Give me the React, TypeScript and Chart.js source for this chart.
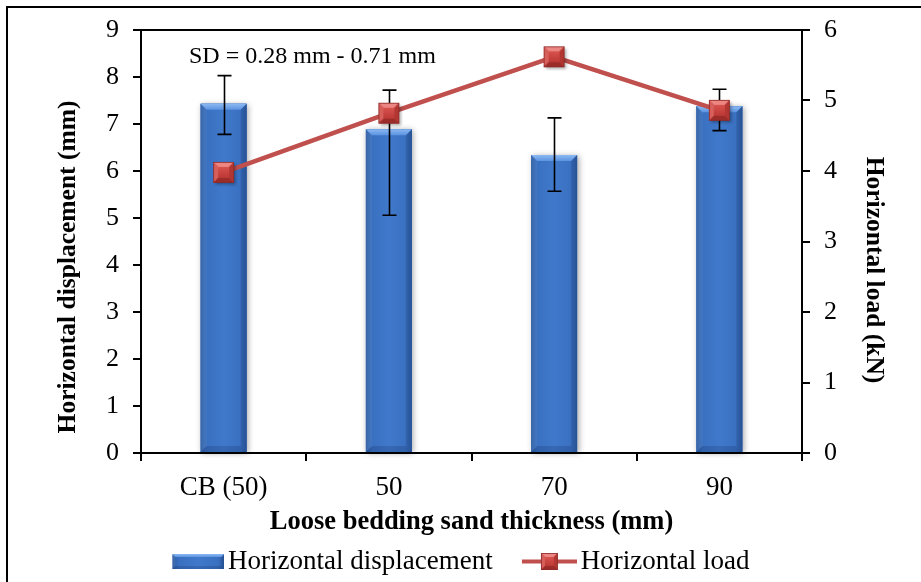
import React, { useEffect, useRef } from 'react';
import { Chart, registerables } from 'chart.js';

Chart.register(...registerables);

// ---- data ----
const categories = ['CB (50)', '50', '70', '90'];
const displacement = [7.43, 6.89, 6.34, 7.38];
const displacementErrLow = [6.78, 5.06, 5.57, 6.86];
const displacementErrHigh = [8.03, 7.72, 7.13, 7.74];
const load = [3.98, 4.82, 5.62, 4.86];
const leftAxisRange = [0, 9];
const rightAxisRange = [0, 6];
const xTitle = 'Loose bedding sand thickness (mm)';
const leftTitle = 'Horizontal displacement (mm)';
const rightTitle = 'Horizontal load (kN)';
const seriesNames = ['Horizontal displacement', 'Horizontal load'];
const sdNote = 'SD = 0.28 mm - 0.71 mm';

const FONT = "'Liberation Serif', 'Times New Roman', Times, serif";
const BAR_BASE = '#3B72C4';
const LINE_RED = '#C0504D';

function poly(g: any, pts: number[][], fill: any) {
  g.beginPath();
  g.moveTo(pts[0][0], pts[0][1]);
  for (let i = 1; i < pts.length; i++) g.lineTo(pts[i][0], pts[i][1]);
  g.closePath();
  g.fillStyle = fill;
  g.fill();
}

function drawBarFace(g: any, l: number, t: number, r: number, b: number, bev: number) {
  const hg = g.createLinearGradient(l, 0, r, 0);
  hg.addColorStop(0, '#2D5DA2');
  hg.addColorStop(0.13, '#3A70C0');
  hg.addColorStop(0.5, '#4079CB');
  hg.addColorStop(0.87, '#3A70C0');
  hg.addColorStop(1, '#2D5DA2');
  g.fillStyle = hg;
  g.fillRect(l, t, r - l, b - t);
  const tg = g.createLinearGradient(0, t, 0, t + bev);
  tg.addColorStop(0, '#8CB9F3');
  tg.addColorStop(1, '#5C93E0');
  poly(g, [[l, t], [r, t], [r - bev, t + bev], [l + bev, t + bev]], tg);
  poly(g, [[l, t], [l + bev, t + bev], [l + bev, b - bev], [l, b]], 'rgba(255,255,255,0.06)');
  poly(g, [[r, t], [r, b], [r - bev, b - bev], [r - bev, t + bev]], 'rgba(0,10,50,0.12)');
  poly(g, [[l, b], [l + bev, b - bev], [r - bev, b - bev], [r, b]], 'rgba(0,10,50,0.15)');
}

function drawMarker(g: any, x0: number, y0: number, s: number, shadow: boolean) {
  if (shadow) {
    g.save();
    g.shadowColor = 'rgba(0,0,0,0.35)';
    g.shadowBlur = 3;
    g.shadowOffsetX = 1.5;
    g.shadowOffsetY = 1.5;
    g.fillStyle = '#B8342F';
    g.fillRect(x0, y0, s, s);
    g.restore();
  }
  const x1 = x0 + s;
  const y1 = y0 + s;
  const b = Math.round(s * 0.22);
  g.fillStyle = '#C43F3B';
  g.fillRect(x0, y0, s, s);
  poly(g, [[x0, y0], [x1, y0], [x1 - b, y0 + b], [x0 + b, y0 + b]], '#EC8682');
  poly(g, [[x0, y0], [x0 + b, y0 + b], [x0 + b, y1 - b], [x0, y1]], '#D65F5B');
  poly(g, [[x1, y0], [x1, y1], [x1 - b, y1 - b], [x1 - b, y0 + b]], '#B23733');
  poly(g, [[x0, y1], [x0 + b, y1 - b], [x1 - b, y1 - b], [x1, y1]], '#9C2C29');
  const ig = g.createLinearGradient(0, y0 + b, 0, y1 - b);
  ig.addColorStop(0, '#D8524E');
  ig.addColorStop(1, '#BC3935');
  g.fillStyle = ig;
  g.fillRect(x0 + b, y0 + b, s - 2 * b, s - 2 * b);
  g.strokeStyle = 'rgba(140,40,37,0.8)';
  g.lineWidth = 1;
  g.strokeRect(x0 + 0.5, y0 + 0.5, s - 1, s - 1);
}

function makeMarkerCanvas(side: number) {
  const pad = 4;
  const c = document.createElement('canvas');
  c.width = side + pad * 2;
  c.height = side + pad * 2;
  drawMarker(c.getContext('2d'), pad, pad, side, true);
  return c;
}

const LEG_W = 84;
function makeBarSwatch() {
  const c = document.createElement('canvas');
  c.width = LEG_W;
  c.height = 17;
  const g = c.getContext('2d');
  drawBarFace(g, LEG_W - 52, 1, LEG_W, 16, 3);
  return c;
}
function makeLineSwatch() {
  const c = document.createElement('canvas');
  c.width = LEG_W;
  c.height = 23;
  const g: any = c.getContext('2d');
  g.strokeStyle = LINE_RED;
  g.lineWidth = 4;
  g.beginPath();
  g.moveTo(LEG_W - 55, 11.5);
  g.lineTo(LEG_W, 11.5);
  g.stroke();
  const s = 17;
  drawMarker(g, LEG_W - 27.5 - s / 2, 11.5 - s / 2, s, false);
  return c;
}

const decorPlugin = {
  id: 'decor',
  beforeDatasetDraw(chart: any, args: any) {
    if (args.index !== 0) return;
    const ctx = chart.ctx;
    ctx.save();
    for (const el of args.meta.data) {
      const p = el.getProps(['x', 'y', 'base', 'width'], true);
      ctx.shadowColor = 'rgba(0,0,0,0.35)';
      ctx.shadowBlur = 6;
      ctx.shadowOffsetX = 1.5;
      ctx.shadowOffsetY = 1;
      ctx.fillStyle = BAR_BASE;
      ctx.fillRect(p.x - p.width / 2, p.y, p.width, p.base - p.y);
    }
    ctx.restore();
  },
  afterDatasetDraw(chart: any, args: any) {
    if (args.index !== 0) return;
    const ctx = chart.ctx;
    const ys = chart.scales.y;
    ctx.save();
    args.meta.data.forEach((el: any) => {
      const p = el.getProps(['x', 'y', 'base', 'width'], true);
      drawBarFace(ctx, p.x - p.width / 2, p.y, p.x + p.width / 2, p.base, 6);
    });
    ctx.strokeStyle = '#000';
    ctx.lineWidth = 1.6;
    args.meta.data.forEach((el: any, i: number) => {
      const x = Math.round(el.x) + 0.5;
      const yh = ys.getPixelForValue(displacementErrHigh[i]);
      const yl = ys.getPixelForValue(displacementErrLow[i]);
      ctx.beginPath();
      ctx.moveTo(x, yh);
      ctx.lineTo(x, yl);
      ctx.moveTo(x - 7, yh);
      ctx.lineTo(x + 7, yh);
      ctx.moveTo(x - 7, yl);
      ctx.lineTo(x + 7, yl);
      ctx.stroke();
    });
    ctx.restore();
  },
  afterDraw(chart: any) {
    const ctx = chart.ctx;
    const a = chart.chartArea;
    ctx.save();
    // top frame line of plot area
    ctx.strokeStyle = '#000';
    ctx.lineWidth = 2;
    ctx.beginPath();
    ctx.moveTo(a.left, Math.round(a.top));
    ctx.lineTo(a.right, Math.round(a.top));
    ctx.stroke();
    // axis titles
    ctx.fillStyle = '#000';
    ctx.font = `bold 25.5px ${FONT}`;
    ctx.textAlign = 'center';
    ctx.textBaseline = 'middle';
    ctx.save();
    ctx.translate(a.left - 73, a.top + 237);
    ctx.rotate(-Math.PI / 2);
    ctx.fillText(leftTitle, 0, 0);
    ctx.restore();
    ctx.save();
    ctx.translate(a.right + 72, a.top + 240);
    ctx.rotate(Math.PI / 2);
    ctx.fillText(rightTitle, 0, 0);
    ctx.restore();
    // SD note
    ctx.font = `24px ${FONT}`;
    ctx.textAlign = 'left';
    ctx.fillText(sdNote, a.left + 48, a.top + 27);
    ctx.restore();
  },
};

export default function App() {
  const ref = useRef<HTMLCanvasElement | null>(null);

  useEffect(() => {
    if (!ref.current) return;
    const marker = makeMarkerCanvas(21);
    const barSwatch = makeBarSwatch();
    const lineSwatch = makeLineSwatch();
    const tickFontY = { family: FONT, size: 26 };
    const axisGrid = { drawOnChartArea: false, drawTicks: true, tickLength: 8, color: '#000', lineWidth: 2 };
    const axisBorder = { display: true, color: '#000', width: 2 };

    const chart = new Chart(ref.current, {
      type: 'bar',
      data: {
        labels: categories,
        datasets: [
          {
            type: 'bar',
            label: seriesNames[0],
            data: displacement,
            yAxisID: 'y',
            backgroundColor: BAR_BASE,
            borderWidth: 0,
            barPercentage: 0.278,
            categoryPercentage: 1,
            order: 2,
          },
          {
            type: 'line',
            label: seriesNames[1],
            data: load,
            yAxisID: 'y1',
            borderColor: LINE_RED,
            backgroundColor: LINE_RED,
            borderWidth: 4.5,
            pointStyle: marker,
            pointRadius: 11,
            pointHoverRadius: 11,
            tension: 0,
            order: 1,
          },
        ],
      } as any,
      options: {
        animation: false,
        responsive: true,
        maintainAspectRatio: false,
        events: [],
        layout: { padding: { left: 0, right: 21.6, top: 30, bottom: -3 } },
        plugins: {
          tooltip: { enabled: false },
          legend: {
            position: 'bottom',
            labels: {
              usePointStyle: true,
              pointStyleWidth: 64.5,
              padding: 10,
              color: '#000',
              font: { family: FONT, size: 27 },
              generateLabels: () => [
                { text: seriesNames[0], pointStyle: barSwatch, fillStyle: 'rgba(0,0,0,0)', strokeStyle: 'rgba(0,0,0,0)', lineWidth: 0, datasetIndex: 0, hidden: false },
                { text: seriesNames[1], pointStyle: lineSwatch, fillStyle: 'rgba(0,0,0,0)', strokeStyle: 'rgba(0,0,0,0)', lineWidth: 0, datasetIndex: 1, hidden: false },
              ],
            },
          },
        },
        scales: {
          x: {
            type: 'category',
            offset: true,
            grid: { ...axisGrid, offset: true },
            border: axisBorder,
            ticks: { color: '#000', font: { family: FONT, size: 27 }, padding: 11, maxRotation: 0, autoSkip: false },
            title: {
              display: true,
              text: xTitle,
              color: '#000',
              font: { family: FONT, size: 26.5, weight: 'bold', lineHeight: 1.1 },
              padding: { top: 0, bottom: 1 },
            },
            afterFit: (s: any) => { s.height = 85; },
          },
          y: {
            position: 'left',
            min: leftAxisRange[0],
            max: leftAxisRange[1],
            ticks: { stepSize: 1, color: '#000', font: tickFontY, padding: 14 },
            grid: axisGrid,
            border: axisBorder,
            afterFit: (s: any) => { s.width = 141; },
          },
          y1: {
            position: 'right',
            min: rightAxisRange[0],
            max: rightAxisRange[1],
            ticks: { stepSize: 1, color: '#000', font: tickFontY, padding: 14 },
            grid: axisGrid,
            border: axisBorder,
            afterFit: (s: any) => { s.width = 97.4; },
          },
        },
      } as any,
      plugins: [decorPlugin as any],
    });
    return () => chart.destroy();
  }, []);

  return (
    <div style={{ position: 'fixed', left: 0, top: 0, width: 921, height: 582, overflow: 'hidden', background: '#fff' }}>
      <div style={{ position: 'absolute', left: 6, top: 6, width: 2000, height: 2000, borderTop: '2px solid #000', borderLeft: '2px solid #000' }} />
      <div style={{ position: 'absolute', left: 0, top: 0, width: 921, height: 582 }}>
        <canvas ref={ref} />
      </div>
    </div>
  );
}
